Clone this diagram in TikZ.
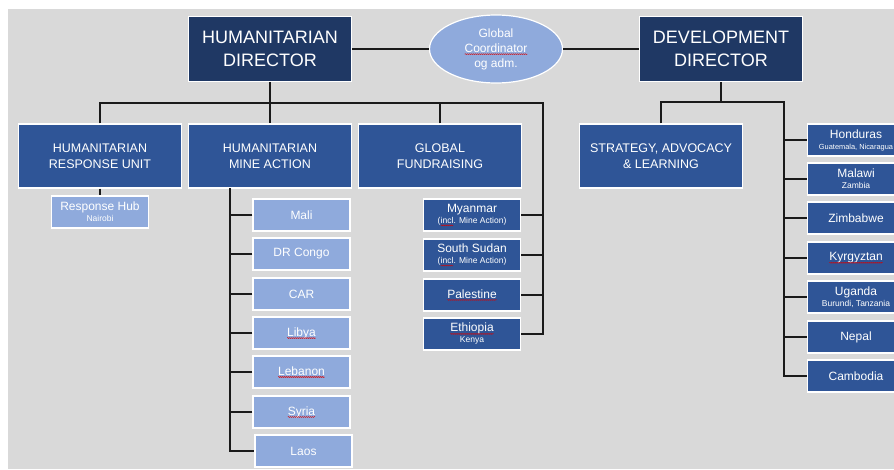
\documentclass[tikz,border=0pt]{standalone}
\usepackage{fontspec}
\setmainfont{Liberation Sans}
\usepackage{tikz}
\usetikzlibrary{shapes,positioning,decorations.pathmorphing}

\definecolor{navy}{HTML}{1F3864}
\definecolor{midblue}{HTML}{2F5597}
\definecolor{lightblue}{HTML}{8FAADC}
\definecolor{bggray}{HTML}{D9D9D9}
\definecolor{linkgray}{HTML}{1A1A1A}

% red wavy underline of the spell checker
\newcommand{\spell}[1]{\tikz[baseline=(w.base)]{%
    \node[rectangle, inner sep=0pt, outer sep=0pt, draw=none, fill=none,
        minimum width=0pt, minimum height=0pt] (w) {#1};
    \draw[red!85!black, line width=0.4pt, decorate, decoration={snake, amplitude=0.5pt, segment length=2pt}]
        ([yshift=-2pt]w.base west) -- ([yshift=-2pt]w.base east);}}
\newcommand{\subline}[1]{{\fontsize{8.5}{11}\selectfont #1}}

\begin{document}
\begin{tikzpicture}[x=1pt, y=-1pt,
    dirbox/.style={draw=white, line width=1.2pt, fill=navy, text=white, align=center,
        inner sep=0pt, minimum width=163pt, minimum height=65pt,
        font=\fontsize{18}{23.5}\selectfont},
    unitbox/.style={draw=white, line width=1.2pt, fill=midblue, text=white, align=center,
        inner sep=0pt, minimum width=163pt, minimum height=64pt,
        font=\fontsize{12.5}{16}\selectfont},
    cbox/.style={draw=white, line width=1.2pt, fill=midblue, text=white, align=center,
        inner sep=0pt, minimum width=97pt, minimum height=32pt,
        font=\fontsize{12}{11}\selectfont},
    lbox/.style={cbox, fill=lightblue},
    link/.style={draw=linkgray, line width=2pt}]
    \useasboundingbox (0,0) rectangle (894,469);
    \clip (0,0) rectangle (894,469);
    \fill[bggray] (8,9) rectangle (894,469);

    % top level
    \node[dirbox] (hd) at (270,49) {HUMANITARIAN\\DIRECTOR};
    \node[ellipse, draw=white, line width=1.2pt, fill=lightblue, text=white, align=center,
        inner sep=0pt, minimum width=133pt, minimum height=68pt,
        font=\fontsize{12}{15}\selectfont] (coord) at (496,49) {Global\\\spell{Coordinator}\\og adm.};
    \node[dirbox] (dd) at (721,49) {DEVELOPMENT\\DIRECTOR};

    % humanitarian units
    \node[unitbox] (hru) at (100,156) {HUMANITARIAN\\RESPONSE UNIT};
    \node[unitbox] (hma) at (270,156) {HUMANITARIAN\\MINE ACTION};
    \node[unitbox] (gf) at (440,156) {GLOBAL\\FUNDRAISING};
    \node[lbox] (hub) at (100,212) {Response Hub\\\subline{Nairobi}};

    % mine action countries
    \node[lbox] (mali) at (301.5,215) {Mali};
    \node[lbox] (drc) at (301.5,254) {DR Congo};
    \node[lbox] (car) at (301.5,294) {CAR};
    \node[lbox] (lby) at (301.5,333) {\spell{Libya}};
    \node[lbox] (lbn) at (301.5,372) {\spell{Lebanon}};
    \node[lbox] (syr) at (301.5,412) {\spell{Syria}};
    \node[lbox] (lao) at (303.5,451) {Laos};

    % countries under the humanitarian director
    \node[cbox] (mya) at (472,215) {Myanmar\\\subline{(\spell{incl}. Mine Action)}};
    \node[cbox] (ssd) at (472,255) {South Sudan\\\subline{(\spell{incl}. Mine Action)}};
    \node[cbox] (pal) at (472,295) {\spell{Palestine}};
    \node[cbox] (eth) at (472,334) {\spell{Ethiopia}\\\subline{Kenya}};

    % development
    \node[unitbox] (sal) at (661,156) {STRATEGY, ADVOCACY\\\& LEARNING};
    \node[cbox] (hon) at (856,140) {Honduras\\{\fontsize{7.4}{11}\selectfont Guatemala, Nicaragua}};
    \node[cbox] (mwi) at (856,179) {Malawi\\\subline{Zambia}};
    \node[cbox] (zwe) at (856,218) {Zimbabwe};
    \node[cbox] (kgz) at (856,258) {\spell{Kyrgyztan}};
    \node[cbox] (uga) at (856,297) {Uganda\\\subline{Burundi, Tanzania}};
    \node[cbox] (npl) at (856,337) {Nepal};
    \node[cbox] (khm) at (856,376) {Cambodia};

    % lines
    \coordinate (hbus) at (543,103);
    \coordinate (mabus) at (230,188);
    \coordinate (dbus) at (784,102);
    \draw[link] (hd.east) -- (coord.west);
    \draw[link] (coord.east) -- (dd.west);
    \draw[link] (hd.south) -- (hma.north);
    \draw[link] (hru.north) |- (hbus) |- (eth.east);
    \draw[link] (gf.north) -- (gf.north |- hbus);
    \draw[link] (hru.south) -- (hub.north);
    \foreach \n in {mya,ssd,pal}
        \draw[link] (\n.east) -- (\n.east -| hbus);
    \draw[link] (mabus) |- (lao.west);
    \foreach \n in {mali,drc,car,lby,lbn,syr}
        \draw[link] (\n.west) -- (\n.west -| mabus);
    \draw[link] (dd.south) -- (dd.south |- dbus);
    \draw[link] (sal.north) |- (dbus) |- (khm.west);
    \foreach \n in {hon,mwi,zwe,kgz,uga,npl}
        \draw[link] (\n.west) -- (\n.west -| dbus);
\end{tikzpicture}
\end{document}
